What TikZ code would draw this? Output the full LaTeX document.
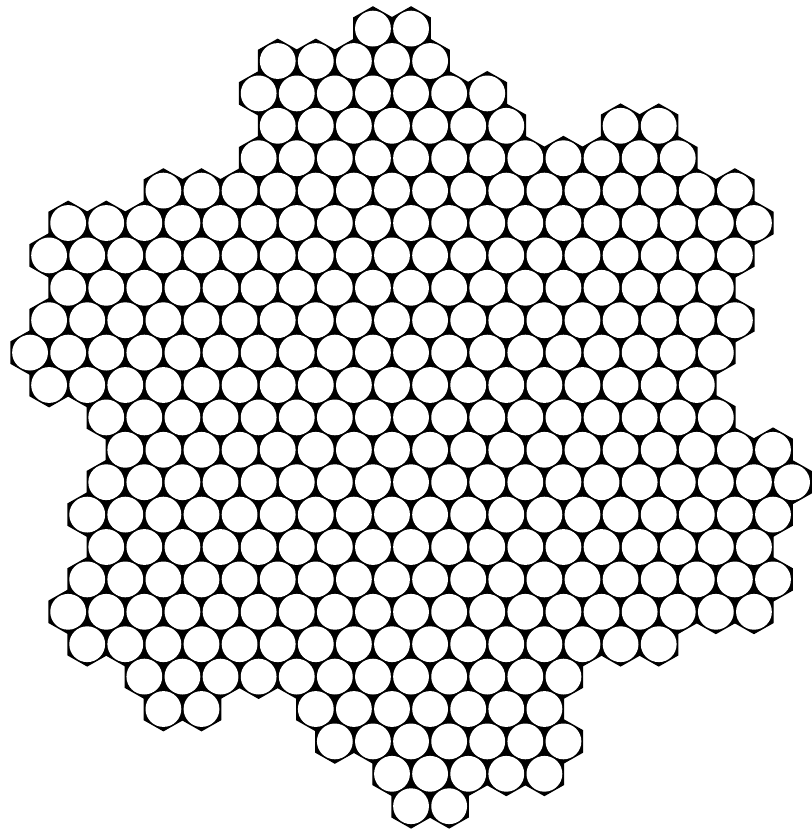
\documentclass[tikz,border=0pt]{standalone}
\usepackage{tikz}
\tikzset{cell/.style={fill=black,draw=black,line width=0.7pt,line join=miter},
  hole/.style={fill=white}}

\begin{document}
\begin{tikzpicture}[x=0.5pt,y=-0.5pt]
\useasboundingbox (0,0) rectangle (812,831);
% row / first / last cell of each run
\foreach \r/\a/\b in {0/9/10, 1/6/10, 2/6/12, 3/6/12, 3/15/16, 4/6/17, 5/3/18,
  6/1/19, 7/0/18, 8/1/18, 9/0/18, 10/0/18, 11/0/17, 12/2/18, 13/2/19, 14/2/20,
  15/1/19, 16/2/19, 17/1/19, 18/1/19, 19/1/16, 20/3/14, 21/3/4, 21/7/13,
  22/8/14, 23/9/13, 24/10/11}{
  \foreach \m in {\a,...,\b}{
    \pgfmathsetmacro\px{30.05+38.1*\m+19.05*mod(\r,2)}
    \pgfmathsetmacro\py{28.6+32.4*\r}
    \filldraw[cell,shift={(\px,\py)}] (0,-21.6) -- (19.05,-10.8) -- (19.05,10.8)
      -- (0,21.6) -- (-19.05,10.8) -- (-19.05,-10.8) -- cycle;
    \fill[hole] (\px,\py) circle[radius=17.9];
  }
}
\end{tikzpicture}
\end{document}
